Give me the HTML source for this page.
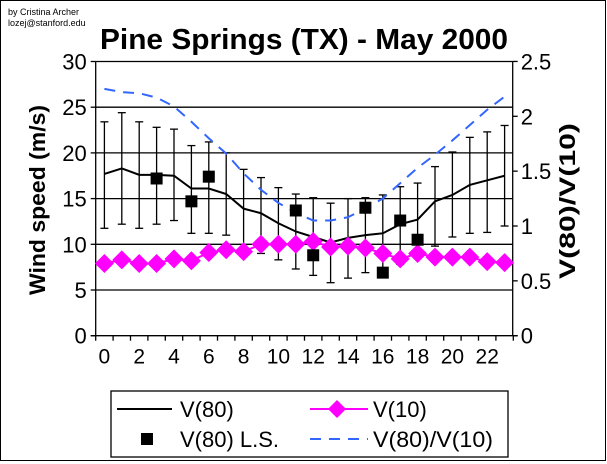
<!DOCTYPE html>
<html><head><meta charset="utf-8"><style>
html,body{margin:0;padding:0;background:#fff;}
svg{display:block;font-family:"Liberation Sans",Arial,sans-serif;}
</style></head><body>
<svg id="s" width="607" height="464" xmlns="http://www.w3.org/2000/svg">
<rect x="0.5" y="0.5" width="605" height="460" fill="#fff" stroke="#000" stroke-width="1"/>
<text x="8" y="15" font-size="9">by Cristina Archer</text>
<text x="8" y="26" font-size="9">lozej@stanford.edu</text>
<text x="100" y="49" font-size="29" font-weight="bold" textLength="408" lengthAdjust="spacingAndGlyphs">Pine Springs (TX) - May 2000</text>
<g id="grid" stroke="#000" stroke-width="1.3"></g>
<text transform="translate(45,200) rotate(-90)" font-size="22" font-weight="bold" text-anchor="middle" textLength="190" lengthAdjust="spacingAndGlyphs">Wind speed (m/s)</text>
<text transform="translate(575,201) rotate(-90)" font-size="22" font-weight="bold" text-anchor="middle" textLength="156" lengthAdjust="spacingAndGlyphs">V(80)/V(10)</text>
<g id="data"></g>
<rect x="111" y="391" width="397" height="66" fill="#fff" stroke="#000" stroke-width="1.3"/>
<line x1="117" y1="409" x2="172" y2="409" stroke="#000" stroke-width="2"/>
<text x="180" y="417" font-size="22">V(80)</text>
<line x1="310" y1="409" x2="368" y2="409" stroke="#f0f" stroke-width="2"/>
<polygon points="337,400 346,409 337,418 328,409" fill="#f0f"/>
<text x="373" y="417" font-size="22">V(10)</text>
<rect x="141" y="433" width="12" height="12" fill="#000"/>
<text x="180" y="447" font-size="22">V(80) L.S.</text>
<line x1="310" y1="439" x2="368" y2="439" stroke="#3366ff" stroke-width="2" stroke-dasharray="11,8"/>
<text x="373" y="447" font-size="22" textLength="120" lengthAdjust="spacingAndGlyphs">V(80)/V(10)</text>
</svg>
<script>
var NS="http://www.w3.org/2000/svg";
function el(p,t,a,txt){var e=document.createElementNS(NS,t);for(var k in a)e.setAttribute(k,a[k]);if(txt!==undefined)e.textContent=txt;p.appendChild(e);return e;}
var S=document.getElementById("s"),g=document.getElementById("grid"),d=document.getElementById("data");
var L=95.7,R=512.7,B=335.7,T=61.5,sc=9.14;
function X(h){return 104.4+17.4*h;}
function Y(v){return B-v*sc;}
function YR(r){return B-r*109.7;}
for(var v=5;v<=30;v+=5)el(g,"line",{x1:L,y1:Y(v),x2:R,y2:Y(v)});
el(g,"line",{x1:L,y1:T,x2:L,y2:B});
el(g,"line",{x1:R,y1:T,x2:R,y2:B});
el(g,"line",{x1:L-5,y1:B,x2:R+5,y2:B});
for(var v=0;v<=30;v+=5){el(g,"line",{x1:L-5,y1:Y(v),x2:L,y2:Y(v)});el(S,"text",{x:L-9,y:Y(v)+8,"font-size":22,"text-anchor":"end"},String(v));}
var rl=["0","0.5","1","1.5","2","2.5"];
for(var i=0;i<6;i++){var y=YR(i*0.5);el(g,"line",{x1:R,y1:y,x2:R+5,y2:y});el(S,"text",{x:R+8,y:y+8,"font-size":22},rl[i]);}
for(var i=0;i<=24;i++){var x=L+17.4*i;el(g,"line",{x1:x,y1:B,x2:x,y2:B+5});}
for(var h=0;h<=22;h+=2)el(S,"text",{x:X(h),y:B+28,"font-size":21,"text-anchor":"middle"},String(h));
var v80=[17.7,18.3,17.6,17.6,17.5,16.1,16.1,15.5,13.9,13.4,12.3,11.4,10.8,10.2,10.7,11.0,11.2,12.2,12.7,14.7,15.4,16.5,17.0,17.5];
var top_=[23.4,24.4,23.4,22.8,22.6,20.8,21.2,20.0,18.2,17.3,16.2,15.5,15.1,14.5,15.0,15.1,15.4,16.3,16.7,18.5,20.1,21.7,22.3,23.0];
var bot=[11.75,12.2,11.75,12.2,12.6,11.2,11.2,11.0,9.4,9.0,8.3,7.3,6.6,5.8,6.3,6.9,7.0,7.8,8.5,9.8,10.8,11.2,11.3,12.0];
var v10=[7.9,8.3,7.9,7.9,8.4,8.2,9.1,9.4,9.2,10.0,10.0,10.0,10.3,9.7,9.8,9.6,9.0,8.4,9.0,8.6,8.6,8.6,8.1,8.0];
var rat=[2.25,2.22,2.21,2.17,2.09,1.95,1.80,1.66,1.48,1.33,1.21,1.12,1.05,1.05,1.08,1.16,1.25,1.39,1.53,1.65,1.78,1.92,2.06,2.18];
for(var h=0;h<24;h++){var x=X(h);
el(d,"line",{x1:x,y1:Y(top_[h]),x2:x,y2:Y(bot[h]),stroke:"#000","stroke-width":1.3});
el(d,"line",{x1:x-4,y1:Y(top_[h]),x2:x+4,y2:Y(top_[h]),stroke:"#000","stroke-width":1.3});
el(d,"line",{x1:x-4,y1:Y(bot[h]),x2:x+4,y2:Y(bot[h]),stroke:"#000","stroke-width":1.3});}
function pl(arr,f,attrs){var p=[];for(var h=0;h<24;h++)p.push(X(h)+","+f(arr[h]));attrs.points=p.join(" ");attrs.fill="none";el(d,"polyline",attrs);}
pl(v80,Y,{stroke:"#000","stroke-width":2});
pl(rat,YR,{stroke:"#3366ff","stroke-width":2,"stroke-dasharray":"11,8"});
pl(v10,Y,{stroke:"#f0f","stroke-width":2});
for(var h=0;h<24;h++){var x=X(h),y=Y(v10[h]);el(d,"polygon",{points:x+","+(y-9.5)+" "+(x+9.5)+","+y+" "+x+","+(y+9.5)+" "+(x-9.5)+","+y,fill:"#f0f"});}
var ls=[[3,17.2],[5,14.7],[6,17.4],[11,13.7],[12,8.8],[15,14.0],[16,6.9],[17,12.6],[18,10.5]];
ls.forEach(function(p){el(d,"rect",{x:X(p[0])-6,y:Y(p[1])-6,width:12,height:12,fill:"#000"});});
</script>
</body></html>
